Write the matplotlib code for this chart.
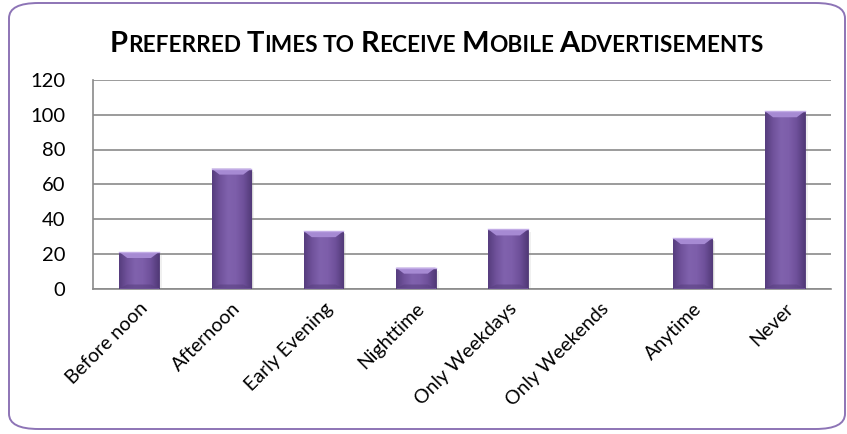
import matplotlib
matplotlib.use('Agg')
import matplotlib.pyplot as plt
import numpy as np
from matplotlib.patches import FancyBboxPatch, Polygon
from matplotlib.colors import LinearSegmentedColormap

plt.rcParams['font.family'] = ['Lato', 'DejaVu Sans']

# Survey counts per preferred time
categories = ['Before noon', 'Afternoon', 'Early Evening', 'Nighttime',
              'Only Weekdays', 'Only Weekends', 'Anytime', 'Never']
counts = [21, 69, 33, 12, 34, 0, 29, 102]
y_ticks = [0, 20, 40, 60, 80, 100, 120]

W, H = 847, 434
fig = plt.figure(figsize=(W / 100, H / 100), dpi=100)

# Rounded outer frame
frame = FancyBboxPatch((9 / W, 5 / H), 836 / W, 426 / H,
                       boxstyle='round,pad=0,rounding_size=0.035',
                       transform=fig.transFigure, facecolor='none',
                       edgecolor='#8d74b6', linewidth=1.4, zorder=0)
fig.patches.append(frame)

ax_l, ax_r, ax_b, ax_t = 93, 831, 434 - 288.5, 434 - 80
ax = fig.add_axes([ax_l / W, ax_b / H, (ax_r - ax_l) / W, (ax_t - ax_b) / H])
ax.set_facecolor('none')

x = np.arange(len(categories))
bar_w = 0.43
ax.set_xlim(-0.5, len(categories) - 0.5)
ax.set_ylim(0, 120)

# pixel -> data helpers for bevel and shadow
px_x = len(categories) / (ax_r - ax_l)
px_y = 120 / (ax_t - ax_b)

shade = LinearSegmentedColormap.from_list(
    'bar', ['#563d7e', '#70529b', '#8062ad', '#7d5eaa', '#6e509a', '#523a78'])
grad = np.linspace(0, 1, 64).reshape(1, -1)

for xi, v in zip(x, counts):
    if v <= 0:
        continue
    left, right = xi - bar_w / 2, xi + bar_w / 2
    # soft drop shadow
    for off, a in ((1.5, 0.25), (3.0, 0.12)):
        ax.bar(xi + off * px_x, v, width=bar_w, bottom=-off * px_y,
               color='#8a8a8a', alpha=a, zorder=2, linewidth=0)
    bar = ax.bar(xi, v, width=bar_w, color='#7457a0', edgecolor='#4f3875',
                 linewidth=0.6, zorder=3)[0]
    im = ax.imshow(grad, cmap=shade, aspect='auto',
                   extent=[left, right, 0, v], zorder=3.5, interpolation='bicubic')
    im.set_clip_path(bar)
    inset = 8 * px_x
    # bottom bevel, darker
    bot_h = min(4 * px_y, v * 0.2)
    ax.add_patch(Polygon([[left, 0], [right, 0], [right - inset, bot_h],
                          [left + inset, bot_h]],
                         closed=True, facecolor='#5a4181', alpha=0.6,
                         edgecolor='none', zorder=3.8))
    # top bevel, light
    bev_h = min(6 * px_y, v * 0.45)
    ax.add_patch(Polygon([[left, v], [right, v], [right - inset, v - bev_h],
                          [left + inset, v - bev_h]],
                         closed=True, facecolor='#a68ad3', edgecolor='none',
                         zorder=4))
    ax.plot([left, right], [v, v], color='#c2ace6', linewidth=1.0, zorder=4.5)

ax.set_xlim(-0.5, len(categories) - 0.5)
ax.set_ylim(0, 120)

ax.set_yticks(y_ticks)
ax.set_yticklabels([str(t) for t in y_ticks], fontsize=14.5)
ax.set_xticks(x)
ax.set_xticklabels(categories, rotation=45, ha='right', rotation_mode='anchor',
                   fontsize=14)
ax.tick_params(axis='y', length=0, pad=20)
ax.tick_params(axis='x', length=0, pad=8)

ax.grid(True, axis='y', color='#8a8a8a', linewidth=1.2, zorder=1)
ax.set_axisbelow(True)
for name, spine in ax.spines.items():
    if name in ('left', 'bottom'):
        spine.set_color('#8a8a8a')
        spine.set_linewidth(1.2)
    else:
        spine.set_visible(False)

# Small-caps style title
words = ['Preferred', 'Times', 'to', 'Receive', 'Mobile', 'Advertisements']
renderer = fig.canvas.get_renderer()
pieces = []
for i, w in enumerate(words):
    if w[0].isupper():
        pieces.append((w[0], 21))
        pieces.append((w[1:].upper(), 16.3))
    else:
        pieces.append((w.upper(), 16.3))
    if i < len(words) - 1:
        pieces.append((' ', 16.3))

texts = []
xpos = 0
for s, size in pieces:
    t = fig.text(0, 0, s, fontsize=size, fontweight='bold', color='black')
    bb = t.get_window_extent(renderer=renderer)
    texts.append((t, bb.width))
    xpos += bb.width
x0 = 437 - xpos / 2
yb = 434 - 52
for t, w in texts:
    t.set_position((x0 / W, yb / H))
    x0 += w

fig.savefig('out.png', dpi=100)
